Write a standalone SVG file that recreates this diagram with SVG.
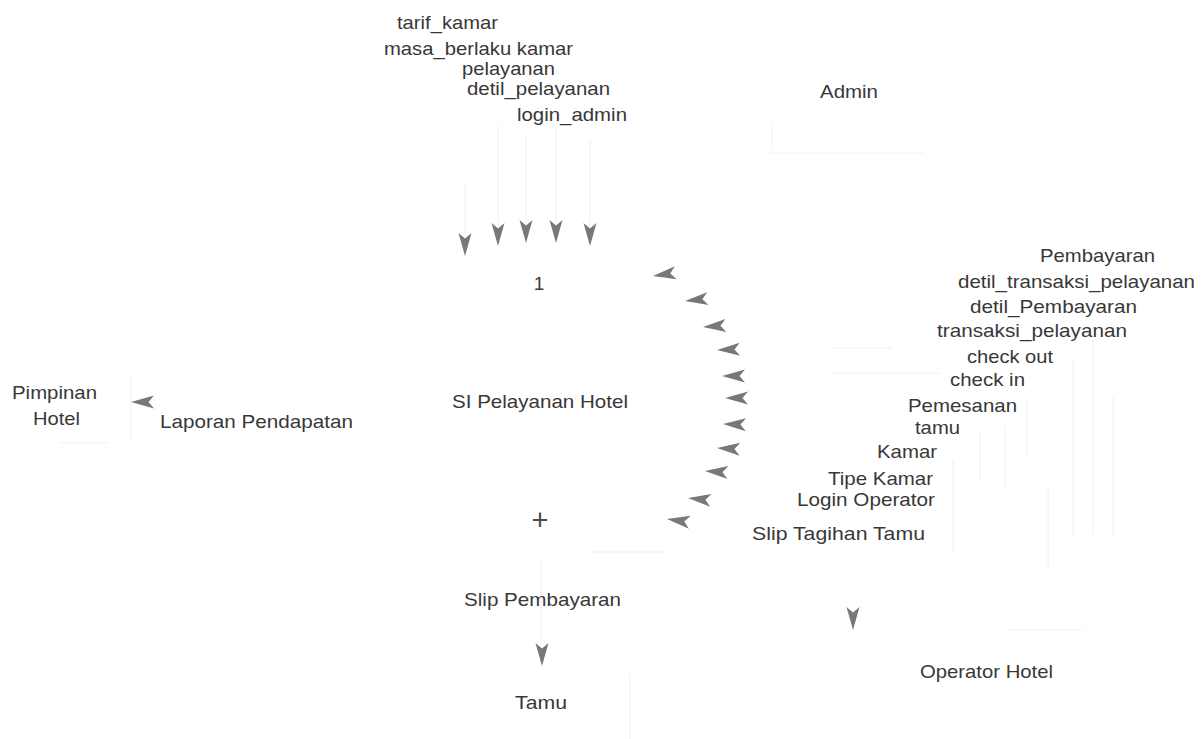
<svg xmlns="http://www.w3.org/2000/svg" xmlns:xlink="http://www.w3.org/1999/xlink" width="1203" height="739" viewBox="0 0 1203 739">
  <style>
    text { font-family: "Liberation Sans", Arial, sans-serif; font-size: 19px; fill: #383838; }
    .flow { stroke: #f0f0f0; stroke-width: 1; fill: none; }
    .edge { stroke: #f1f1f1; stroke-width: 1; fill: none; }
    .head { fill: #787878; }
  </style>
  <defs>
    <!-- notched arrowhead, tip at origin, pointing along +x -->
    <path id="ah" d="M0,0 L-23,-6.5 L-17.5,0 L-23,6.5 Z"/>
  </defs>

  <rect width="1203" height="739" fill="#ffffff"/>

  <!-- external entities -->
  <g id="admin">
    <path class="edge" d="M767,153 H923 M772,122 V150"/>
    <text x="820" y="98" textLength="58" lengthAdjust="spacingAndGlyphs">Admin</text>
  </g>

  <g id="pimpinan-hotel">
    <path class="edge" d="M131,377 V440 M60,443 H108"/>
    <text x="12" y="399" textLength="85" lengthAdjust="spacingAndGlyphs">Pimpinan</text>
    <text x="33" y="425" textLength="47" lengthAdjust="spacingAndGlyphs">Hotel</text>
  </g>

  <g id="tamu">
    <path class="edge" d="M630,673 V739"/>
    <text x="515" y="709" textLength="52" lengthAdjust="spacingAndGlyphs">Tamu</text>
  </g>

  <g id="operator-hotel">
    <path class="edge" d="M1007,630 H1083"/>
    <text x="920" y="678" textLength="133" lengthAdjust="spacingAndGlyphs">Operator Hotel</text>
  </g>

  <!-- process 1 -->
  <g id="si-pelayanan-hotel">
    <text x="539" y="290" text-anchor="middle">1</text>
    <text x="452" y="408" textLength="176" lengthAdjust="spacingAndGlyphs">SI Pelayanan Hotel</text>
    <text x="540" y="530" text-anchor="middle" style="font-size:29px;fill:#4a4a4a">+</text>
  </g>

  <!-- data flows -->
  <g id="connectors">
    <!-- Admin to process -->
    <g id="flows-admin">
      <path class="flow" d="M465,183 V236 M498,125 V228 M526,135 V224 M556,125 V224 M590,140 V228"/>
      <use xlink:href="#ah" href="#ah" class="head" transform="translate(465,256) rotate(90)"/>
      <use xlink:href="#ah" href="#ah" class="head" transform="translate(498,246) rotate(90)"/>
      <use xlink:href="#ah" href="#ah" class="head" transform="translate(526,243) rotate(90)"/>
      <use xlink:href="#ah" href="#ah" class="head" transform="translate(556,243) rotate(90)"/>
      <use xlink:href="#ah" href="#ah" class="head" transform="translate(590,246) rotate(90)"/>
      <text x="397" y="29" textLength="101" lengthAdjust="spacingAndGlyphs">tarif_kamar</text>
      <text x="384" y="55" textLength="189" lengthAdjust="spacingAndGlyphs">masa_berlaku kamar</text>
      <text x="462" y="75" textLength="93" lengthAdjust="spacingAndGlyphs">pelayanan</text>
      <text x="467" y="95" textLength="143" lengthAdjust="spacingAndGlyphs">detil_pelayanan</text>
      <text x="517" y="121" textLength="110" lengthAdjust="spacingAndGlyphs">login_admin</text>
    </g>

    <!-- Operator Hotel to process -->
    <g id="flows-operator">
      <path class="flow" d="M953,460 V553 M980,433 V480 M1005,427 V487 M1027,400 V457 M1048,487 V568 M1073,360 V537 M1093,340 V533 M1113,397 V537 M830,348 H893 M830,373 H940"/>
      <use xlink:href="#ah" href="#ah" class="head" transform="translate(653,276) rotate(172)"/>
      <use xlink:href="#ah" href="#ah" class="head" transform="translate(685,301) rotate(174)"/>
      <use xlink:href="#ah" href="#ah" class="head" transform="translate(703,327) rotate(176)"/>
      <use xlink:href="#ah" href="#ah" class="head" transform="translate(717,350) rotate(178)"/>
      <use xlink:href="#ah" href="#ah" class="head" transform="translate(722,376) rotate(180)"/>
      <use xlink:href="#ah" href="#ah" class="head" transform="translate(725,398) rotate(180)"/>
      <use xlink:href="#ah" href="#ah" class="head" transform="translate(723,424) rotate(182)"/>
      <use xlink:href="#ah" href="#ah" class="head" transform="translate(717,448) rotate(183)"/>
      <use xlink:href="#ah" href="#ah" class="head" transform="translate(705,471) rotate(184)"/>
      <use xlink:href="#ah" href="#ah" class="head" transform="translate(688,498) rotate(186)"/>
      <use xlink:href="#ah" href="#ah" class="head" transform="translate(667,519) rotate(188)"/>
      <text x="1040" y="262" textLength="115" lengthAdjust="spacingAndGlyphs">Pembayaran</text>
      <text x="958" y="288" textLength="237" lengthAdjust="spacingAndGlyphs">detil_transaksi_pelayanan</text>
      <text x="970" y="313" textLength="167" lengthAdjust="spacingAndGlyphs">detil_Pembayaran</text>
      <text x="937" y="337" textLength="190" lengthAdjust="spacingAndGlyphs">transaksi_pelayanan</text>
      <text x="967" y="363" textLength="86" lengthAdjust="spacingAndGlyphs">check out</text>
      <text x="950" y="386" textLength="75" lengthAdjust="spacingAndGlyphs">check in</text>
      <text x="908" y="412" textLength="109" lengthAdjust="spacingAndGlyphs">Pemesanan</text>
      <text x="915" y="434" textLength="45" lengthAdjust="spacingAndGlyphs">tamu</text>
      <text x="877" y="458" textLength="60" lengthAdjust="spacingAndGlyphs">Kamar</text>
      <text x="828" y="485" textLength="105" lengthAdjust="spacingAndGlyphs">Tipe Kamar</text>
      <text x="797" y="506" textLength="138" lengthAdjust="spacingAndGlyphs">Login Operator</text>
    </g>

    <!-- process to Operator Hotel -->
    <g id="flow-slip-tagihan">
      <use xlink:href="#ah" href="#ah" class="head" transform="translate(853,630) rotate(90)"/>
      <text x="752" y="540" textLength="173" lengthAdjust="spacingAndGlyphs">Slip Tagihan Tamu</text>
    </g>

    <!-- process to Pimpinan Hotel -->
    <g id="flow-laporan">
      <use xlink:href="#ah" href="#ah" class="head" transform="translate(131,402) rotate(180)"/>
      <text x="160" y="428" textLength="193" lengthAdjust="spacingAndGlyphs">Laporan Pendapatan</text>
    </g>

    <!-- process to Tamu -->
    <g id="flow-slip-pembayaran">
      <path class="flow" d="M541,558 V645 M590,552 H668"/>
      <use xlink:href="#ah" href="#ah" class="head" transform="translate(542,666) rotate(90)"/>
      <text x="464" y="606" textLength="157" lengthAdjust="spacingAndGlyphs">Slip Pembayaran</text>
    </g>
  </g>
</svg>
